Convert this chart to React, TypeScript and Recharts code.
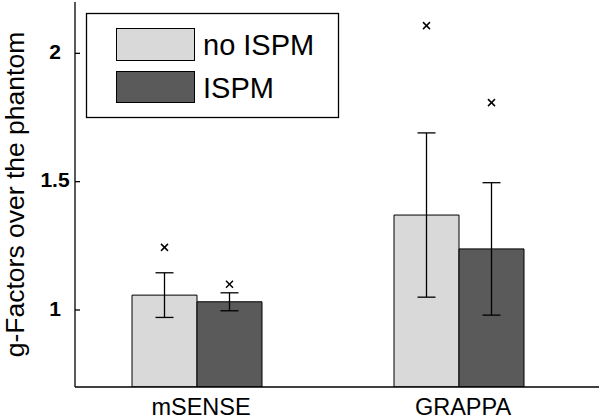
import React from 'react';
import { ComposedChart, Bar, XAxis, YAxis, ErrorBar } from 'recharts';

// g-factor summary: mean bars, std error bars, max marked with a cross
const categories = ['mSENSE', 'GRAPPA'];
const meanNoIspm = [1.058, 1.37];
const meanIspm = [1.032, 1.238];
const stdNoIspm = [0.087, 0.32];
const stdIspm = [0.035, 0.258];
const maxNoIspm = [1.244, 2.108];
const maxIspm = [1.1, 1.808];
const yTicks = [1, 1.5, 2];
const seriesNames = ['no ISPM', 'ISPM'];

const LIGHT = '#d9d9d9';
const DARK = '#5a5a5a';
const FONT = '"Liberation Sans", Arial, Helvetica, sans-serif';

const data = categories.map((cat, i) => ({
  cat,
  noIspm: meanNoIspm[i],
  ispm: meanIspm[i],
  errNo: stdNoIspm[i],
  errIspm: stdIspm[i],
  // transparent stacked segment whose top sits at the max value
  gapNo: maxNoIspm[i] - meanNoIspm[i],
  gapIspm: maxIspm[i] - meanIspm[i],
}));

const Cross = (props: any) => {
  const { x, y, width } = props;
  const cx = x + width / 2;
  const s = 3.5;
  return (
    <g stroke="#000" strokeWidth={1.5}>
      <line x1={cx - s} y1={y - s} x2={cx + s} y2={y + s} />
      <line x1={cx - s} y1={y + s} x2={cx + s} y2={y - s} />
    </g>
  );
};

const LeftTick = ({ x, y, payload }: any) => (
  <g>
    <line x1={x} y1={y} x2={x + 5} y2={y} stroke="#000" strokeWidth={1.3} />
    <text x={55} y={y + 5.5} textAnchor="middle" fontFamily={FONT} fontWeight="bold" fontSize={21} fill="#000">
      {payload.value}
    </text>
  </g>
);

const RightTick = ({ x, y }: any) => (
  <line x1={x} y1={y} x2={x - 5} y2={y} stroke="#000" strokeWidth={1.3} />
);

const TopTick = ({ x, y }: any) => (
  <line x1={x} y1={y} x2={x} y2={y + 5} stroke="#000" strokeWidth={1.3} />
);

const BottomTick = ({ x, y, payload }: any) => (
  <text x={x + 4} y={y + 28} textAnchor="middle" fontFamily={FONT} fontSize={23.5} fill="#000">
    {payload.value}
  </text>
);

export default function App() {
  const pad = { left: -9, right: 9 };
  return (
    <div style={{ position: 'relative', width: 600, height: 420, background: '#fff' }}>
      <style>{'body{margin:0}'}</style>
      <ComposedChart
        width={600}
        height={420}
        data={data}
        margin={{ top: 2, right: 1, left: 0, bottom: 0 }}
        barGap={0}
        barSize={65}
      >
        <XAxis
          dataKey="cat"
          height={33}
          padding={pad}
          axisLine={{ stroke: '#000', strokeWidth: 1.3 }}
          tickLine={false}
          tickSize={0}
          tickMargin={0}
          tick={<BottomTick />}
        />
        <XAxis
          xAxisId="top"
          dataKey="cat"
          orientation="top"
          height={0}
          padding={pad}
          axisLine={{ stroke: '#000', strokeWidth: 1.3 }}
          tickLine={false}
          tickSize={0}
          tickMargin={0}
          tick={<TopTick />}
        />
        <YAxis
          width={75}
          domain={[0.7, 2.2]}
          ticks={yTicks}
          allowDataOverflow
          axisLine={{ stroke: '#000', strokeWidth: 1.3 }}
          tickLine={false}
          tickSize={0}
          tickMargin={0}
          tick={<LeftTick />}
          label={{
            value: 'g-Factors over the phantom',
            angle: -90,
            position: 'insideLeft',
            content: ({ viewBox }: any) => (
              <text
                x={24}
                y={viewBox.y + viewBox.height / 2}
                transform={`rotate(-90, 24, ${viewBox.y + viewBox.height / 2})`}
                textAnchor="middle"
                fontFamily={FONT}
                fontSize={26.5}
                fill="#000"
              >
                g-Factors over the phantom
              </text>
            ),
          }}
        />
        <YAxis
          yAxisId="right"
          orientation="right"
          width={0}
          domain={[0.7, 2.2]}
          ticks={yTicks}
          allowDataOverflow
          axisLine={{ stroke: '#000', strokeWidth: 1.3 }}
          tickLine={false}
          tickSize={0}
          tickMargin={0}
          tick={<RightTick />}
        />
        <Bar dataKey="noIspm" stackId="a" fill={LIGHT} stroke="#000" strokeWidth={1} isAnimationActive={false}>
          <ErrorBar dataKey="errNo" width={9} stroke="#000" strokeWidth={1.3} />
        </Bar>
        <Bar dataKey="gapNo" stackId="a" fill="none" shape={<Cross />} isAnimationActive={false} />
        <Bar dataKey="ispm" stackId="b" fill={DARK} stroke="#000" strokeWidth={1} isAnimationActive={false}>
          <ErrorBar dataKey="errIspm" width={9} stroke="#000" strokeWidth={1.3} />
        </Bar>
        <Bar dataKey="gapIspm" stackId="b" fill="none" shape={<Cross />} isAnimationActive={false} />
      </ComposedChart>
      <svg width={600} height={420} style={{ position: 'absolute', left: 0, top: 0, pointerEvents: 'none' }}>
        <rect x={86.5} y={13.5} width={252} height={104} fill="#fff" stroke="#000" strokeWidth={1.3} />
        <rect x={116.5} y={28.5} width={78} height={32} fill={LIGHT} stroke="#000" strokeWidth={1} />
        <rect x={116.5} y={71.5} width={78} height={31} fill={DARK} stroke="#000" strokeWidth={1} />
        <text x={203} y={55} fontFamily={FONT} fontSize={29} fill="#000">{seriesNames[0]}</text>
        <text x={203} y={98} fontFamily={FONT} fontSize={29} fill="#000">{seriesNames[1]}</text>
      </svg>
    </div>
  );
}
